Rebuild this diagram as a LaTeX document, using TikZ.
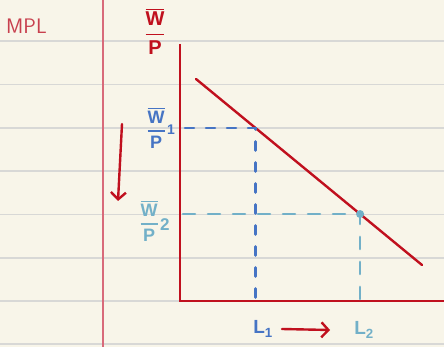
\documentclass[tikz,border=0pt]{standalone}
\usepackage{amsmath}
\usepackage{fontspec}
\setmainfont{Liberation Sans}
\usetikzlibrary{arrows.meta,positioning,calc}
\definecolor{paper}{HTML}{F8F5E9}
\definecolor{ruleg}{HTML}{D8D8D6}
\definecolor{margin}{HTML}{D86A7A}
\definecolor{mplred}{HTML}{C0101E}
\definecolor{mplpink}{HTML}{C8404E}
\definecolor{wblue}{HTML}{4674C4}
\definecolor{wlblue}{HTML}{72B0C8}

\newcommand{\wfrac}{\genfrac{}{}{1.4pt}{0}{\overline{\text{\bfseries W}}}{\text{\bfseries P}}}

\begin{document}
\begin{tikzpicture}[
  x=1pt, y=-1pt, font=\sffamily,
  rule/.style={draw=ruleg, line width=1.1pt},
  axis/.style={draw=mplred, line width=2.8pt},
  curve/.style={draw=mplred, line width=2.4pt, line cap=round},
  guideA/.style={draw=wblue, line width=2.6pt, line cap=round, dash pattern=on 9pt off 12pt},
  guideB/.style={draw=wlblue, line width=2.6pt, line cap=round, dash pattern=on 12pt off 13pt},
  shiftarr/.style={-{Straight Barb[length=7pt, width=15pt]}, draw=mplred, line width=2.4pt, line cap=round},
  lab/.style={inner sep=0pt, align=center},
  dot/.style={circle, fill=wlblue, inner sep=0pt, minimum size=8pt}
]
% ---------------- paper
\fill[paper] (0,0) rectangle (444,347);
\useasboundingbox (0,0) rectangle (444,347);
\foreach \yy in {41,84.5,128,171,214.5,258,301,344}
  \draw[rule] (0,\yy) -- (444,\yy);
\draw[draw=margin, line width=1.2pt] (103,0) -- (103,347);
\node[lab, text=mplpink, anchor=west, font=\sffamily\fontsize{21}{21}\selectfont] (mpl) at (6,26) {MPL};
% ---------------- axes
\coordinate (O) at (180,301);
\coordinate (ytop) at (180,44);
\coordinate (xend) at (444,301);
\draw[axis] (ytop) -- (O) -- (xend);
\node[lab, text=mplred, font=\fontsize{20}{20}\selectfont] (wp) at (155,31) {$\wfrac$};
% ---------------- MPL curve
\coordinate (d0) at (196,79);
\coordinate (d1) at (422,265);
\draw[curve] (d0) -- (d1);
\coordinate (e1) at ($(d0)!0.263!(d1)$);
\coordinate (e2) at ($(d0)!0.726!(d1)$);
% ---------------- real wages and labour
\draw[guideA] ($(e1 -| O)+(5,0)$) -- (e1) -- (e1 |- O);
\draw[guideB] ($(e2 -| O)+(3,0)$) -- (e2) -- (e2 |- O);
\node[dot] (e2dot) at (e2) {};
\node[lab, text=wblue, font=\fontsize{18}{18}\selectfont, anchor=east] (wp1) at (166,128) {$\wfrac$};
\node[lab, text=wblue, font=\bfseries\fontsize{14}{14}\selectfont, right=1pt of wp1, yshift=-2pt] (one) {1};
\node[lab, text=wlblue, font=\fontsize{18}{18}\selectfont, anchor=east] (wp2) at (159,221) {$\wfrac$};
\node[lab, text=wlblue, font=\bfseries\fontsize{17}{17}\selectfont, right=1pt of wp2, yshift=-4pt] (two) {2};
\node[lab, text=wblue, font=\bfseries\fontsize{19}{19}\selectfont] (l1) at (263,329) {L$_{\text{\bfseries 1}}$};
\node[lab, text=wlblue, font=\bfseries\fontsize{19}{19}\selectfont] (l2) at (364,330) {L$_{\text{\bfseries 2}}$};
% ---------------- shifts
\coordinate (down0) at (122,124);
\coordinate (down1) at (118,201);
\draw[shiftarr] (down0) -- (down1);
\draw[shiftarr] ($(l1.east)+(9,0)$) -- ($(l2.west)+(-24,0)$);
\end{tikzpicture}
\end{document}
